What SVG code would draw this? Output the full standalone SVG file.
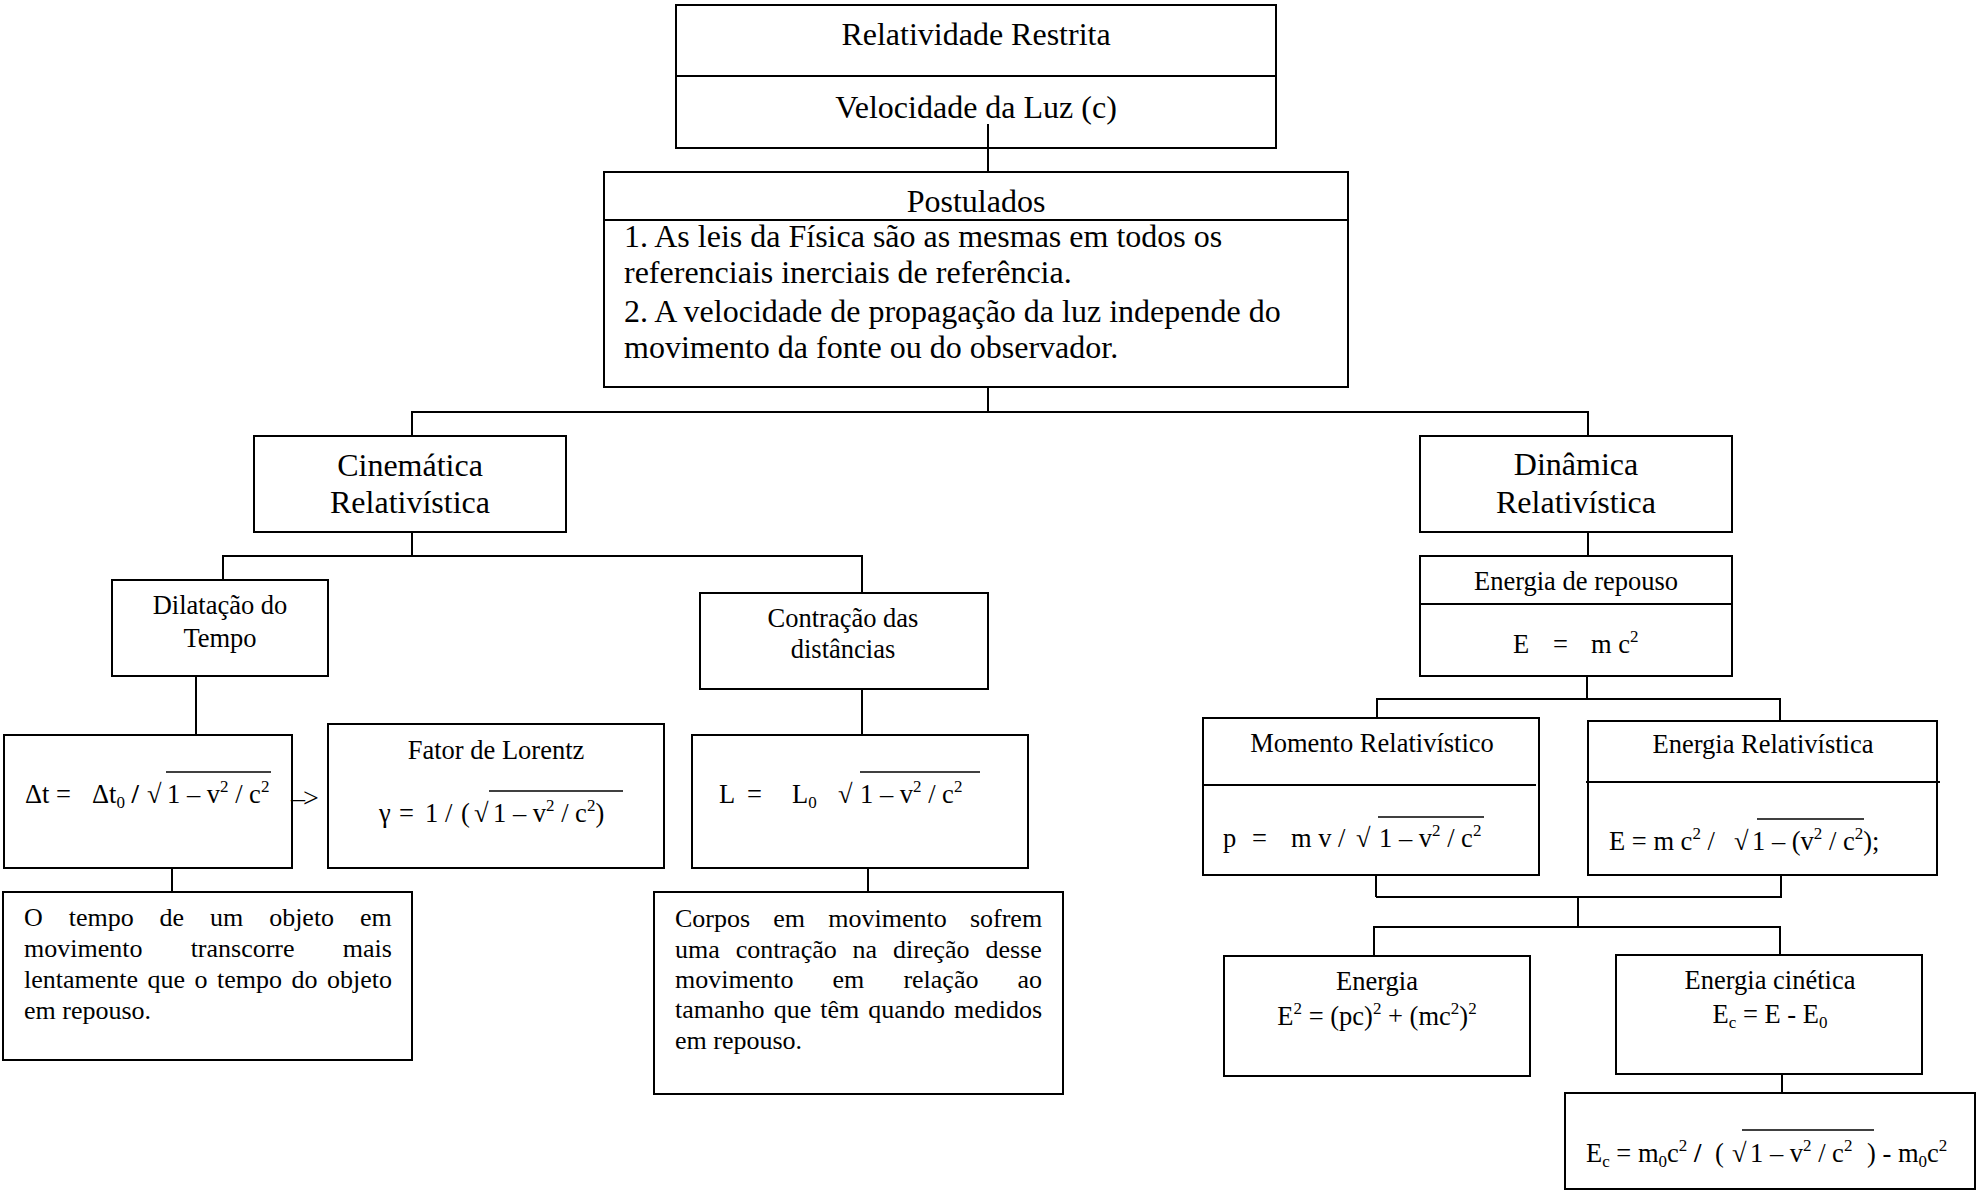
<svg xmlns="http://www.w3.org/2000/svg" width="1981" height="1190" viewBox="0 0 1981 1190">
  <style>
    .box { fill: #fff; stroke: #000; stroke-width: 2; }
    .ln { stroke: #000; stroke-width: 2; fill: none; }
    .bar { stroke: #000; stroke-width: 1.5; }
    text { font-family: "Liberation Serif", "Times New Roman", serif; fill: #000; }
    .L { font-size: 32px; }
    .M { font-size: 26.5px; }
    .P { font-size: 26px; }
    .c { text-anchor: middle; }
    .s { font-size: 17px; }
    .b { font-weight: bold; }
  </style>
  <rect width="1981" height="1190" fill="#fff"/>

  <!-- connectors -->
  <g id="connectors" class="ln">
    <line x1="988" y1="124" x2="988" y2="172"/>
    <polyline points="988,387 988,412"/>
    <polyline points="412,436 412,412 1588,412 1588,436"/>
    <line x1="412" y1="532" x2="412" y2="556"/>
    <polyline points="223,580 223,556 862,556 862,593"/>
    <line x1="196" y1="676" x2="196" y2="735"/>
    <line x1="172" y1="868" x2="172" y2="892"/>
    <line x1="862" y1="689" x2="862" y2="735"/>
    <line x1="868" y1="868" x2="868" y2="892"/>
    <line x1="1588" y1="532" x2="1588" y2="556"/>
    <line x1="1587" y1="676" x2="1587" y2="699"/>
    <polyline points="1377,718 1377,699 1780,699 1780,721"/>
    <line x1="1376" y1="862" x2="1376" y2="897"/>
    <polyline points="1376,897 1781,897 1781,875"/>
    <line x1="1578" y1="897" x2="1578" y2="927"/>
    <polyline points="1374,956 1374,927 1780,927 1780,955"/>
    <line x1="1782" y1="1074" x2="1782" y2="1093"/>
  </g>

  <!-- Relatividade Restrita -->
  <g id="n-relatividade">
    <rect class="box" x="676" y="5" width="600" height="143"/>
    <line class="ln" x1="676" y1="76" x2="1276" y2="76"/>
    <text class="L c" x="976" y="45">Relatividade Restrita</text>
    <text class="L c" x="976" y="118">Velocidade da Luz (c)</text>
    <line class="ln" x1="988" y1="124" x2="988" y2="148"/>
  </g>

  <!-- Postulados -->
  <g id="n-postulados">
    <rect class="box" x="604" y="172" width="744" height="215"/>
    <line class="ln" x1="604" y1="220" x2="1348" y2="220"/>
    <text class="L c" x="976" y="212">Postulados</text>
    <text class="L" x="624" y="247">1. As leis da Física são as mesmas em todos os</text>
    <text class="L" x="624" y="283">referenciais inerciais de referência.</text>
    <text class="L" x="624" y="322">2. A velocidade de propagação da luz independe do</text>
    <text class="L" x="624" y="358">movimento da fonte ou do observador.</text>
  </g>

  <!-- Cinemática Relativística -->
  <g id="n-cinematica">
    <rect class="box" x="254" y="436" width="312" height="96"/>
    <text class="L c" x="410" y="476">Cinemática</text>
    <text class="L c" x="410" y="513">Relativística</text>
  </g>

  <!-- Dinâmica Relativística -->
  <g id="n-dinamica">
    <rect class="box" x="1420" y="436" width="312" height="96"/>
    <text class="L c" x="1576" y="475">Dinâmica</text>
    <text class="L c" x="1576" y="513">Relativística</text>
  </g>

  <!-- Dilatação do Tempo -->
  <g id="n-dilatacao">
    <rect class="box" x="112" y="580" width="216" height="96"/>
    <text class="M c" x="220" y="614">Dilatação do</text>
    <text class="M c" x="220" y="647">Tempo</text>
  </g>

  <!-- Contração das distâncias -->
  <g id="n-contracao">
    <rect class="box" x="700" y="593" width="288" height="96"/>
    <text class="M c" x="843" y="627">Contração das</text>
    <text class="M c" x="843" y="658">distâncias</text>
  </g>

  <!-- Δt formula -->
  <g id="n-delta-t">
    <rect class="box" x="4" y="735" width="288" height="133"/>
    <text class="M" y="803"><tspan x="25">Δt =</tspan><tspan x="92">Δt</tspan><tspan class="s" dy="5">0</tspan><tspan class="b" dy="-5"> /</tspan><tspan x="147">√</tspan><tspan x="167">1 – v</tspan><tspan class="s" dy="-11">2</tspan><tspan dy="11"> / c</tspan><tspan class="s" dy="-11">2</tspan></text>
    <line class="bar" x1="166" y1="772" x2="271" y2="772"/>
    <text x="291" y="807" font-size="28" letter-spacing="-2">–&gt;</text>
  </g>

  <!-- Fator de Lorentz -->
  <g id="n-lorentz">
    <rect class="box" x="328" y="724" width="336" height="144"/>
    <text class="M c" x="496" y="759">Fator de Lorentz</text>
    <text class="M" y="822"><tspan x="379">γ</tspan><tspan x="399">=</tspan><tspan x="425">1</tspan><tspan x="445">/</tspan><tspan x="461">(</tspan><tspan x="474">√</tspan><tspan x="493">1 – v</tspan><tspan class="s" dy="-11">2</tspan><tspan dy="11"> / c</tspan><tspan class="s" dy="-11">2</tspan><tspan dy="11">)</tspan></text>
    <line class="bar" x1="489" y1="791" x2="623" y2="791"/>
  </g>

  <!-- L formula -->
  <g id="n-comprimento">
    <rect class="box" x="692" y="735" width="336" height="133"/>
    <text class="M" y="803"><tspan x="719">L</tspan><tspan x="747">=</tspan><tspan x="792">L</tspan><tspan class="s" dy="5">0</tspan><tspan x="838" dy="-5">√</tspan><tspan x="860">1 – v</tspan><tspan class="s" dy="-11">2</tspan><tspan dy="11"> / c</tspan><tspan class="s" dy="-11">2</tspan></text>
    <line class="bar" x1="860" y1="772" x2="980" y2="772"/>
  </g>

  <!-- Dilatação: texto -->
  <g id="n-texto-tempo">
    <rect class="box" x="3" y="892" width="409" height="168"/>
    <text class="P" x="24" y="926" word-spacing="19.4">O tempo de um objeto em</text>
    <text class="P" x="24" y="957" word-spacing="41.7">movimento transcorre mais</text>
    <text class="P" x="24" y="988" word-spacing="3">lentamente que o tempo do objeto</text>
    <text class="P" x="24" y="1019">em repouso.</text>
  </g>

  <!-- Contração: texto -->
  <g id="n-texto-corpos">
    <rect class="box" x="654" y="892" width="409" height="202"/>
    <text class="P" x="675" y="927" word-spacing="16.7">Corpos em movimento sofrem</text>
    <text class="P" x="675" y="958" word-spacing="9.4">uma contração na direção desse</text>
    <text class="P" x="675" y="988" word-spacing="32.6">movimento em relação ao</text>
    <text class="P" x="675" y="1018" word-spacing="2.6">tamanho que têm quando medidos</text>
    <text class="P" x="675" y="1049">em repouso.</text>
  </g>

  <!-- Energia de repouso -->
  <g id="n-energia-repouso">
    <rect class="box" x="1420" y="556" width="312" height="120"/>
    <line class="ln" x1="1420" y1="604" x2="1732" y2="604"/>
    <text class="M c" x="1576" y="590">Energia de repouso</text>
    <text class="M" y="653"><tspan x="1513">E</tspan><tspan x="1553">=</tspan><tspan x="1591">m c</tspan><tspan class="s" dy="-11">2</tspan></text>
  </g>

  <!-- Momento Relativístico -->
  <g id="n-momento">
    <rect class="box" x="1203" y="718" width="336" height="157"/>
    <line class="ln" x1="1203" y1="785" x2="1536" y2="785"/>
    <text class="M c" x="1372" y="752">Momento Relativístico</text>
    <text class="M" y="847"><tspan x="1223">p</tspan><tspan x="1252">=</tspan><tspan x="1291">m v /</tspan><tspan x="1356">√</tspan><tspan x="1379">1 – v</tspan><tspan class="s" dy="-11">2</tspan><tspan dy="11"> / c</tspan><tspan class="s" dy="-11">2</tspan></text>
    <line class="bar" x1="1378" y1="817" x2="1484" y2="817"/>
  </g>

  <!-- Energia Relativística -->
  <g id="n-energia-relativistica">
    <rect class="box" x="1588" y="721" width="349" height="154"/>
    <line class="ln" x1="1586" y1="782" x2="1940" y2="782"/>
    <text class="M c" x="1763" y="753">Energia Relativística</text>
    <text class="M" y="850"><tspan x="1609">E = m c</tspan><tspan class="s" dy="-11">2</tspan><tspan dy="11"> /</tspan><tspan x="1734">√</tspan><tspan x="1752">1 – (v</tspan><tspan class="s" dy="-11">2</tspan><tspan dy="11"> / c</tspan><tspan class="s" dy="-11">2</tspan><tspan dy="11">);</tspan></text>
    <line class="bar" x1="1757" y1="819" x2="1864" y2="819"/>
  </g>

  <!-- Energia -->
  <g id="n-energia">
    <rect class="box" x="1224" y="956" width="306" height="120"/>
    <text class="M c" x="1377" y="990">Energia</text>
    <text class="M c" x="1377" y="1025">E<tspan class="s" dy="-11">2</tspan><tspan dy="11"> = (pc)</tspan><tspan class="s" dy="-11">2</tspan><tspan dy="11"> + (mc</tspan><tspan class="s" dy="-11">2</tspan><tspan dy="11">)</tspan><tspan class="s" dy="-11">2</tspan></text>
  </g>

  <!-- Energia cinética -->
  <g id="n-energia-cinetica">
    <rect class="box" x="1616" y="955" width="306" height="119"/>
    <text class="M c" x="1770" y="989">Energia cinética</text>
    <text class="M c" x="1770" y="1023">E<tspan class="s" dy="5">c</tspan><tspan dy="-5">  = E - E</tspan><tspan class="s" dy="5">0</tspan></text>
  </g>

  <!-- Energia cinética: forma completa -->
  <g id="n-energia-cinetica-formula">
    <rect class="box" x="1565" y="1093" width="410" height="96"/>
    <text class="M" y="1162"><tspan x="1586">E</tspan><tspan class="s" dy="5">c</tspan><tspan dy="-5"> = m</tspan><tspan class="s" dy="5">0</tspan><tspan dy="-5">c</tspan><tspan class="s" dy="-11">2</tspan><tspan class="b" dy="11"> / </tspan><tspan x="1715">(</tspan><tspan x="1732">√</tspan><tspan x="1750">1 – v</tspan><tspan class="s" dy="-11">2</tspan><tspan dy="11"> / c</tspan><tspan class="s" dy="-11">2</tspan><tspan x="1867" dy="11">) - m</tspan><tspan class="s" dy="5">0</tspan><tspan dy="-5">c</tspan><tspan class="s" dy="-11">2</tspan></text>
    <line class="bar" x1="1742" y1="1130" x2="1874" y2="1130"/>
  </g>
</svg>
